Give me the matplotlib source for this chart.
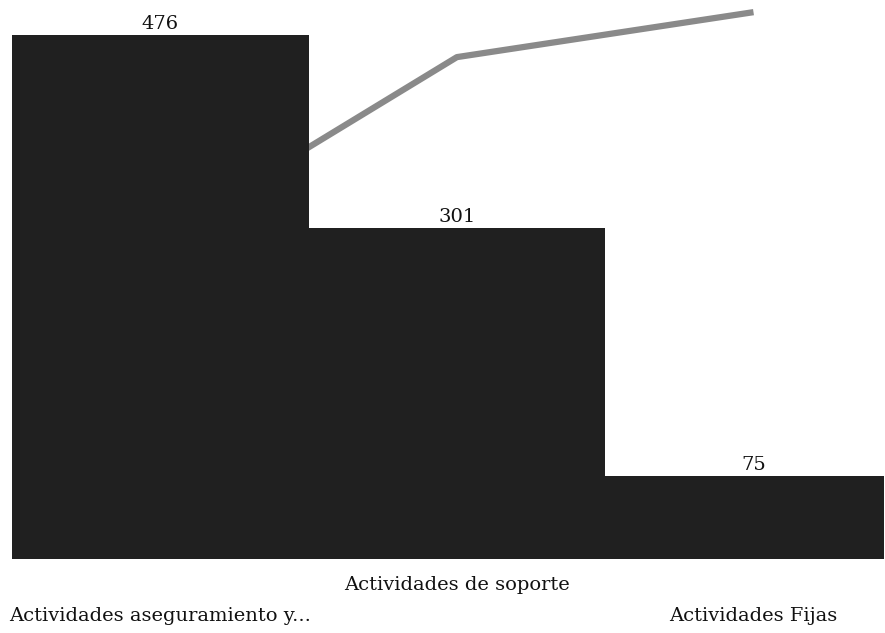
import numpy as np
import matplotlib
matplotlib.use("Agg")
import matplotlib.pyplot as plt
from matplotlib.transforms import blended_transform_factory

# data
categorias = ["Actividades aseguramiento y...", "Actividades de soporte", "Actividades Fijas"]
valores = [476, 301, 75]
# cumulative percentage for the pareto line
acumulado = np.cumsum(valores) / np.sum(valores) * 100

plt.rcParams['font.family'] = ['DejaVu Serif']

fig = plt.figure(figsize=(8.85, 6.33), dpi=100)
W, H = 885, 633
# axes box in pixels: left 12, right 884, bottom 559, top 5
ax = fig.add_axes([12 / W, (H - 559) / H, 872 / W, 554 / H])
ax2 = ax.twinx()

x = np.arange(len(categorias))
ax.bar(x, valores, width=1.0, color='#202020', edgecolor='none', zorder=2)
for xi, v in zip(x, valores):
    ax.text(xi, v + 2, str(v), ha='center', va='bottom', fontsize=14, color='#111111')

ax2.plot(x, acumulado, color='#8a8a8a', lw=4.5, solid_capstyle='butt', zorder=1)

# bars drawn over the line
ax.set_zorder(ax2.get_zorder() + 1)
ax.patch.set_visible(False)

ax.set_xlim(-0.5, 2.44)
ax.set_ylim(0, 503.6)
ax2.set_ylim(-7.05, 101.4)

for a in (ax, ax2):
    for s in a.spines.values():
        s.set_visible(False)
    a.set_yticks([])
    a.set_xticks([])

# staggered category labels
trans = blended_transform_factory(ax.transData, fig.transFigure)
label_y = [1 - 616 / H, 1 - 585 / H, 1 - 616 / H]
for xi, cat, ly in zip(x, categorias, label_y):
    ax.text(xi, ly, cat, transform=trans, ha='center', va='center', fontsize=14, color='#111111')

fig.savefig("out.png", dpi=100, facecolor='white')
